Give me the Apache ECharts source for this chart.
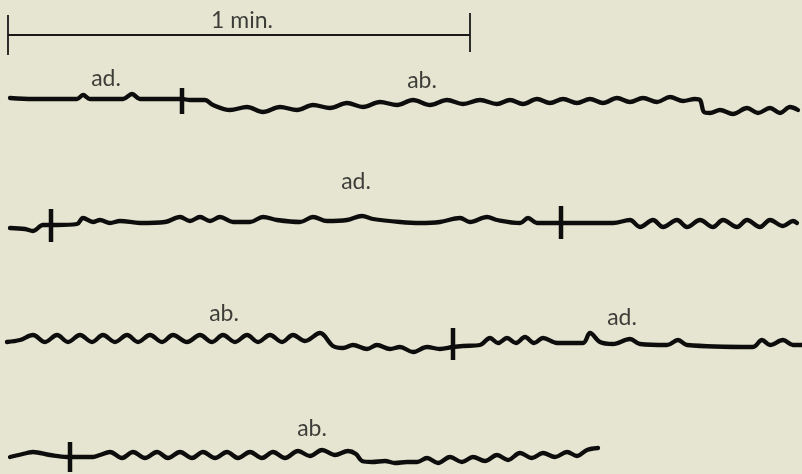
<!DOCTYPE html>
<html>
<head>
<meta charset="utf-8">
<script src="https://cdn.jsdelivr.net/npm/echarts@6/dist/echarts.min.js"></script>
<style>
html,body{margin:0;padding:0;background:#e6e5d1;}
#c{width:802px;height:474px;}
</style>
</head>
<body>
<div id="c"></div>
<script>
// Trace 1 (top): adduction then abduction
var trace1 = [[10,98],[33,99],[77,99],[83,95],[90,99],[123,99],[132,94],[140,99],[177,99],[182,99],[190,100],[205,100],[213,105],[230,110],[247,107],[263,112],[280,107],[297,110],[313,105],[330,108],[347,103],[363,107],[380,102],[397,105],[413,100],[430,105],[447,100],[463,104],[480,100],[497,104],[510,100],[523,104],[537,99],[550,103],[563,99],[577,103],[590,99],[603,103],[617,98],[630,102],[643,98],[657,102],[670,97],[683,101],[695,99],[700,100],[704,112],[710,113],[720,110],[733,114],[747,108],[758,113],[770,108],[780,113],[790,107],[798,110]];
// Trace 2
var trace2 = [[10,228],[25,229],[33,231],[43,225],[51,225],[57,225],[77,224],[83,218],[93,222],[100,220],[110,223],[120,221],[140,223],[165,222],[180,217],[190,221],[200,217],[210,221],[220,217],[233,222],[250,222],[263,217],[277,220],[300,222],[313,217],[327,221],[347,220],[362,216],[373,219],[400,222],[420,223],[440,222],[460,218],[470,222],[487,217],[497,220],[520,223],[528,218],[537,223],[561,223],[590,223],[613,223],[630,220],[640,227],[653,220],[663,227],[677,220],[687,227],[700,220],[713,227],[723,220],[737,227],[747,220],[760,227],[770,220],[783,226],[793,221],[797,223]];
// Trace 3
var trace3 = [[7,342],[20,340],[33,335],[45,342],[57,335],[68,342],[80,335],[92,342],[103,335],[115,342],[127,335],[138,342],[150,335],[162,342],[173,335],[187,342],[200,335],[212,342],[223,335],[235,342],[247,335],[258,342],[270,335],[282,342],[293,335],[305,341],[320,333],[333,346],[343,348],[353,345],[367,349],[377,345],[390,349],[400,347],[413,352],[427,347],[440,349],[453,347],[463,346],[480,345],[490,338],[498,343],[507,338],[516,343],[525,337],[534,343],[543,338],[557,343],[583,343],[590,333],[600,342],[613,344],[630,339],[640,344],[667,345],[678,340],[687,345],[753,347],[762,340],[770,345],[783,340],[793,345],[802,345]];
// Trace 4 (bottom)
var trace4 = [[10,457],[27,453],[33,452],[50,455],[67,457],[77,457],[93,457],[100,455],[110,452],[122,458],[133,452],[145,458],[157,452],[168,458],[180,452],[192,458],[203,452],[215,458],[227,452],[238,458],[250,452],[262,458],[273,452],[285,458],[298,451],[310,456],[322,450],[335,455],[348,451],[356,454],[362,461],[372,462],[385,461],[395,463],[407,462],[417,462],[427,458],[438,463],[450,457],[462,462],[473,457],[485,461],[497,455],[508,460],[520,453],[532,458],[543,453],[555,457],[567,452],[577,456],[587,450],[598,448]];

// Stimulus marks (vertical ticks)
var tickX = [182, 51, 561, 453, 70];
var tickTop = [88, 209, 206, 328, 442];
var tickBottom = [114, 242, 239, 360, 472];

// Time scale bar
var scaleX = [8, 470];
var scaleY = 35;
var scaleTop = [15, 13];
var scaleBottom = [55, 52];

// Labels
var labelText = ['1 min.', 'ad.', 'ab.', 'ad.', 'ab.', 'ad.', 'ab.'];
var labelX = [242, 106, 422, 356, 224, 622, 312];
var labelY = [21, 79, 81, 182, 314, 318, 429];

var tickData = [];
for (var i = 0; i < tickX.length; i++) {
  tickData.push([tickX[i], tickTop[i]]);
  tickData.push([tickX[i], tickBottom[i]]);
  tickData.push(null);
}
var scaleData = [
  [scaleX[0], scaleTop[0]], [scaleX[0], scaleBottom[0]], null,
  [scaleX[0], scaleY], [scaleX[1], scaleY], null,
  [scaleX[1], scaleTop[1]], [scaleX[1], scaleBottom[1]]
];
var labelData = labelText.map(function (t, i) { return { name: t, value: [labelX[i], labelY[i]] }; });

var traceStyle = function (d) {
  return {
    type: 'line', data: d, smooth: 0.35, symbol: 'none',
    lineStyle: { color: '#0d0d0d', width: 4.3, cap: 'round', join: 'round' },
    z: 3
  };
};

var chart = echarts.init(document.getElementById('c'), null, { renderer: 'canvas' });
chart.setOption({
  backgroundColor: '#e6e5d1',
  animation: false,
  grid: { left: 0, right: 0, top: 0, bottom: 0 },
  xAxis: { type: 'value', min: 0, max: 802, show: false },
  yAxis: { type: 'value', min: 0, max: 474, inverse: true, show: false },
  series: [
    traceStyle(trace1), traceStyle(trace2), traceStyle(trace3), traceStyle(trace4),
    { type: 'line', data: tickData, symbol: 'none', connectNulls: false,
      lineStyle: { color: '#0d0d0d', width: 4.5 }, z: 4 },
    { type: 'line', data: scaleData, symbol: 'none', connectNulls: false,
      lineStyle: { color: '#1a1a1a', width: 1.8 }, z: 2 },
    { type: 'scatter', data: labelData, symbolSize: 0, z: 5,
      label: { show: true, position: 'inside', formatter: '{b}',
        fontFamily: 'Lato', fontSize: 23, color: '#111' } }
  ]
});
</script>
</body>
</html>
